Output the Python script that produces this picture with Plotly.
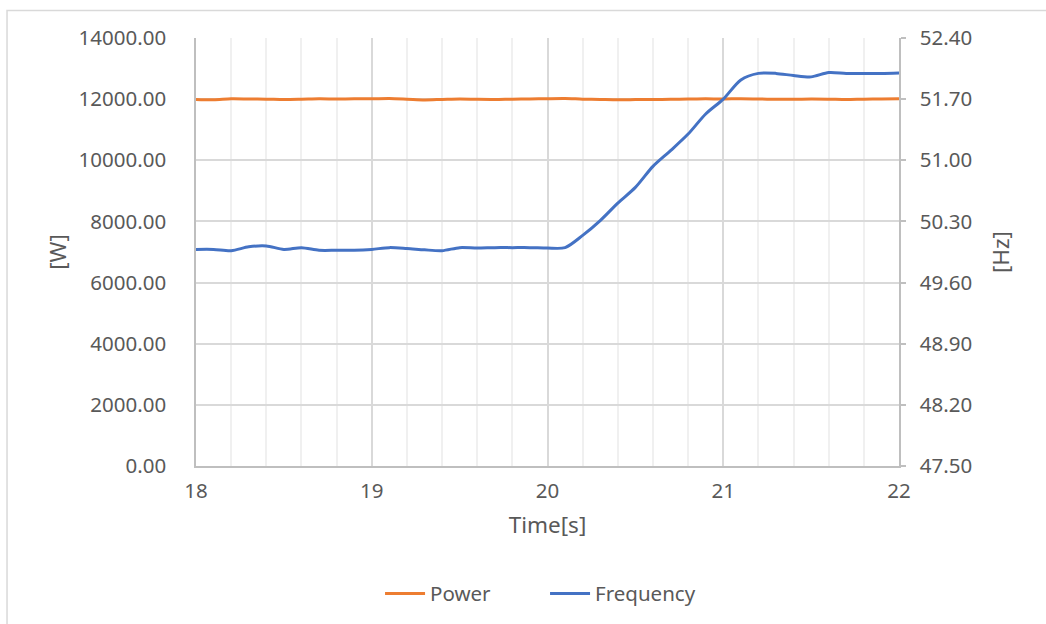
import plotly.graph_objects as go

# Time axis samples (s)
time_s = [18.0, 18.1, 18.2, 18.3, 18.4, 18.5, 18.6, 18.7, 18.8, 18.9,
          19.0, 19.1, 19.2, 19.3, 19.4, 19.5, 19.6, 19.7, 19.8, 19.9,
          20.0, 20.1, 20.2, 20.3, 20.4, 20.5, 20.6, 20.7, 20.8, 20.9,
          21.0, 21.1, 21.2, 21.3, 21.4, 21.5, 21.6, 21.7, 21.8, 21.9, 22.0]

# Active power (W)
power_w = [11990, 11980, 12010, 12005, 12000, 11985, 11995, 12010, 12005, 12010,
           12010, 12020, 12000, 11975, 11990, 12005, 11995, 11990, 12000, 12005,
           12015, 12020, 12000, 11990, 11980, 11985, 11990, 11995, 12005, 12010,
           12005, 12015, 12005, 11995, 11995, 12005, 12000, 11990, 12000, 12005, 12015]

# Grid frequency (Hz)
freq_hz = [49.98, 49.98, 49.965, 50.01, 50.02, 49.98, 50.0, 49.97, 49.97, 49.97,
           49.98, 50.0, 49.99, 49.975, 49.965, 50.0, 49.995, 50.0, 50.0, 50.0,
           49.995, 50.0, 50.14, 50.31, 50.51, 50.69, 50.93, 51.11, 51.30, 51.53,
           51.70, 51.92, 51.995, 51.995, 51.97, 51.955, 52.005, 51.995, 51.995, 51.995, 52.0]

x_ticks = [18, 19, 20, 21, 22]

TXT = "#595959"
FONT = "Noto Sans"
AXIS = "#bfbfbf"
GRID = "#d9d9d9"
MINOR = "#f0f0f0"
TICK_SIZE = 20.5
TITLE_SIZE = 22.5

fig = go.Figure()
fig.add_trace(go.Scatter(
    x=time_s, y=power_w, name="Power", mode="lines",
    line=dict(color="#ED7D31", width=3, shape="spline", smoothing=0.8),
    yaxis="y",
))
fig.add_trace(go.Scatter(
    x=time_s, y=freq_hz, name="Frequency", mode="lines",
    line=dict(color="#4472C4", width=3, shape="spline", smoothing=0.8),
    yaxis="y2",
))

fig.update_layout(
    width=1046, height=624,
    margin=dict(l=196, r=147, t=38, b=157),
    paper_bgcolor="white", plot_bgcolor="white",
    font=dict(family=FONT, size=TICK_SIZE, color=TXT),
    showlegend=True,
    legend=dict(orientation="h", x=0.2618, xanchor="left", y=-0.295, yanchor="middle",
                font=dict(size=TICK_SIZE, color=TXT), itemwidth=40,
                entrywidth=110, entrywidthmode="pixels", traceorder="normal"),
    xaxis=dict(
        range=[18, 22], tickvals=x_ticks, ticktext=[str(v) for v in x_ticks],
        showline=True, linecolor=AXIS, linewidth=1.5,
        showgrid=True, gridcolor=GRID, gridwidth=1.5,
        minor=dict(dtick=0.2, tick0=18, showgrid=True, gridcolor=MINOR, gridwidth=1.5),
        ticks="", ticklabelstandoff=6, zeroline=False,
        title=dict(text="Time[s]", font=dict(size=TITLE_SIZE, color=TXT), standoff=14),
    ),
    yaxis=dict(
        range=[0, 14000], dtick=2000, tick0=0, tickformat=".2f",
        showline=True, linecolor=AXIS, linewidth=1.5,
        showgrid=True, gridcolor=GRID, gridwidth=1.5,
        ticks="", ticklabelstandoff=24, zeroline=False,
        title=dict(text="[W]", font=dict(size=TITLE_SIZE, color=TXT), standoff=6),
    ),
    yaxis2=dict(
        range=[47.5, 52.4], dtick=0.7, tick0=47.5, tickformat=".2f",
        overlaying="y", side="right",
        showline=True, linecolor=AXIS, linewidth=1.5,
        showgrid=False, zeroline=False,
        ticks="outside", ticklen=5, tickcolor=AXIS, tickwidth=1.5,
        ticklabelstandoff=10,
        title=dict(text="[Hz]", font=dict(size=TITLE_SIZE, color=TXT), standoff=22),
    ),
    shapes=[dict(
        type="rect", xref="paper", yref="paper",
        x0=-0.2688, x1=1.215, y0=-0.38, y1=1.0645,
        line=dict(color="#d9d9d9", width=1.5), fillcolor="rgba(0,0,0,0)", layer="below",
    )],
)

fig.write_html("out.html")
